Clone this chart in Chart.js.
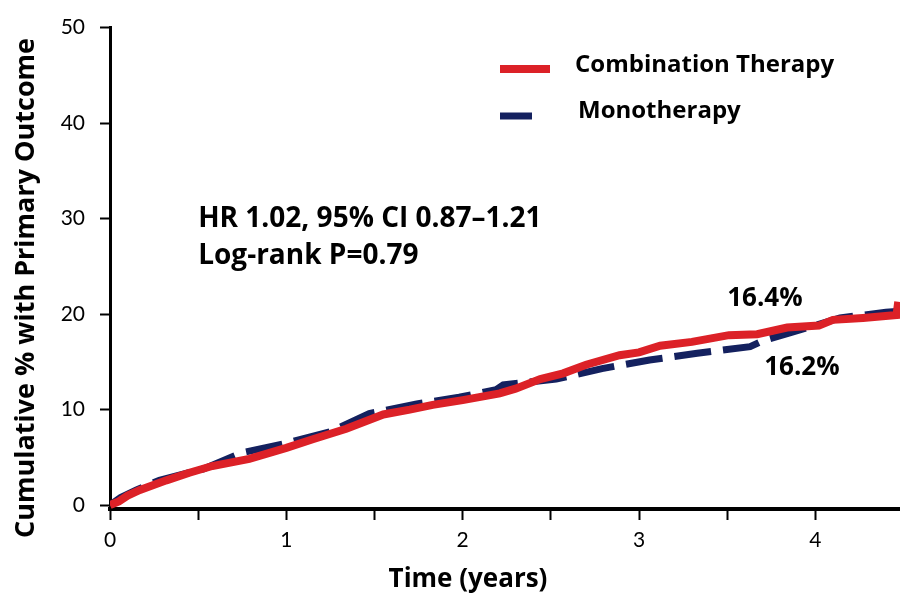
<!DOCTYPE html>
<html>
<head>
<meta charset="utf-8">
<script src="https://cdn.jsdelivr.net/npm/chart.js@4.4.1/dist/chart.umd.min.js"></script>
<style>
  html, body { margin: 0; padding: 0; background: #fff; }
  #wrap { width: 900px; height: 600px; position: relative; }
</style>
</head>
<body>
<div id="wrap"><canvas id="kmChart"></canvas></div>
<script>
// Kaplan-Meier style cumulative incidence, read per arm
const comboYears = [0, 0.05, 0.1, 0.17, 0.32, 0.45, 0.58, 0.79, 1.0, 1.15, 1.34, 1.55, 1.7, 1.83, 2.0, 2.21, 2.3, 2.44, 2.57, 2.7, 2.89, 3.0, 3.12, 3.3, 3.51, 3.67, 3.84, 4.02, 4.1, 4.27, 4.46, 4.47];
const comboPct   = [0, 0.4, 1.0, 1.6, 2.6, 3.4, 4.1, 4.85, 6.0, 6.9, 8.0, 9.5, 10.0, 10.5, 11.0, 11.7, 12.2, 13.2, 13.8, 14.7, 15.7, 16.0, 16.7, 17.1, 17.8, 17.9, 18.6, 18.8, 19.4, 19.6, 19.9, 21.3];

const monoYears = [0, 0.06, 0.15, 0.28, 0.53, 0.75, 0.98, 1.25, 1.47, 1.74, 1.98, 2.19, 2.23, 2.53, 2.79, 3.06, 3.33, 3.63, 3.7, 3.85, 4.14, 4.4, 4.48];
const monoPct   = [0, 0.8, 1.6, 2.6, 3.8, 5.5, 6.4, 7.7, 9.6, 10.6, 11.3, 12.1, 12.6, 13.2, 14.3, 15.2, 15.9, 16.6, 17.2, 18.0, 19.6, 20.2, 20.3];

const seriesNames = ['Combination Therapy', 'Monotherapy'];
const xTicks = [0, 0.5, 1, 1.5, 2, 2.5, 3, 3.5, 4];
const yTicks = [0, 10, 20, 30, 40, 50];
const xTitle = 'Time (years)';
const yTitle = 'Cumulative % with Primary Outcome';

const statsLines = ['HR 1.02, 95% CI 0.87\u20131.21', 'Log-rank P=0.79'];
const endLabels = ['16.4%', '16.2%'];

const RED = '#dc2127';
const NAVY = '#14215f';
const TICK_FONT = 'Lato';
const BOLD_FONT = '"Open Sans"';

const toPoints = (xs, ys) => xs.map((x, i) => ({ x: x, y: ys[i] }));

// axis titles, legend and text annotations drawn on top of the plot
const overlay = {
  id: 'overlay',
  afterDraw(chart) {
    const ctx = chart.ctx;
    const xs = chart.scales.x, ys = chart.scales.y;
    ctx.save();
    ctx.fillStyle = '#000';
    ctx.textBaseline = 'middle';

    // axis titles
    ctx.textAlign = 'center';
    ctx.font = 'bold 26px ' + BOLD_FONT;
    ctx.fillText(xTitle, 468, 580);
    ctx.save();
    ctx.translate(26, 288);
    ctx.rotate(-Math.PI / 2);
    ctx.font = 'bold 27px ' + BOLD_FONT;
    ctx.fillText(yTitle, 0, 0);
    ctx.restore();

    // legend
    ctx.textAlign = 'left';
    ctx.lineCap = 'butt';
    ctx.strokeStyle = RED; ctx.lineWidth = 8;
    ctx.beginPath(); ctx.moveTo(500, 69); ctx.lineTo(550, 69); ctx.stroke();
    ctx.strokeStyle = NAVY; ctx.lineWidth = 7;
    ctx.beginPath(); ctx.moveTo(500, 116); ctx.lineTo(532, 116); ctx.stroke();
    ctx.font = 'bold 24px ' + BOLD_FONT;
    ctx.fillText(seriesNames[0], 575, 65);
    ctx.fillText(seriesNames[1], 578, 111);

    // hazard ratio block
    ctx.font = 'bold 28px ' + BOLD_FONT;
    ctx.fillText(statsLines[0], xs.getPixelForValue(0.5), ys.getPixelForValue(30.0));
    ctx.fillText(statsLines[1], xs.getPixelForValue(0.5), ys.getPixelForValue(26.1));

    // end-of-follow-up rates
    ctx.font = 'bold 26px ' + BOLD_FONT;
    ctx.fillText(endLabels[0], xs.getPixelForValue(3.5), ys.getPixelForValue(21.6));
    ctx.fillText(endLabels[1], xs.getPixelForValue(3.71), ys.getPixelForValue(14.4));
    ctx.restore();
  }
};

new Chart(document.getElementById('kmChart'), {
  type: 'line',
  data: {
    datasets: [
      {
        label: seriesNames[0],
        data: toPoints(comboYears, comboPct),
        borderColor: RED,
        borderWidth: 8,
        pointRadius: 0,
        tension: 0,
        fill: false,
        order: 0
      },
      {
        label: seriesNames[1],
        data: toPoints(monoYears, monoPct),
        borderColor: NAVY,
        borderWidth: 7,
        borderDash: [37, 12],
        pointRadius: 0,
        tension: 0,
        fill: false,
        order: 1
      }
    ]
  },
  options: {
    responsive: true,
    maintainAspectRatio: false,
    animation: false,
    layout: { padding: { top: 20, right: 0, left: 0, bottom: 0 } },
    plugins: {
      legend: { display: false },
      tooltip: { enabled: false }
    },
    scales: {
      x: {
        type: 'linear',
        min: 0,
        max: 4.48,
        afterBuildTicks: s => { s.ticks = xTicks.map(v => ({ value: v })); },
        afterFit: s => { s.height = 91; },
        border: { color: '#000', width: 4 },
        grid: { drawOnChartArea: false, drawTicks: true, tickLength: 11, tickColor: '#000', tickWidth: 2 },
        ticks: {
          autoSkip: false,
          maxRotation: 0,
          padding: 8,
          color: '#000',
          font: { family: TICK_FONT, size: 21 },
          callback: v => Number.isInteger(v) ? String(v) : ''
        }
      },
      y: {
        type: 'linear',
        min: -0.4,
        max: 50,
        afterBuildTicks: s => { s.ticks = yTicks.map(v => ({ value: v })); },
        afterFit: s => { s.width = 110; },
        border: { color: '#000', width: 3 },
        grid: { drawOnChartArea: false, drawTicks: true, tickLength: 10, tickColor: '#000', tickWidth: 2 },
        ticks: {
          padding: 15,
          color: '#000',
          font: { family: TICK_FONT, size: 21 }
        }
      }
    }
  },
  plugins: [overlay]
});
</script>
</body>
</html>
